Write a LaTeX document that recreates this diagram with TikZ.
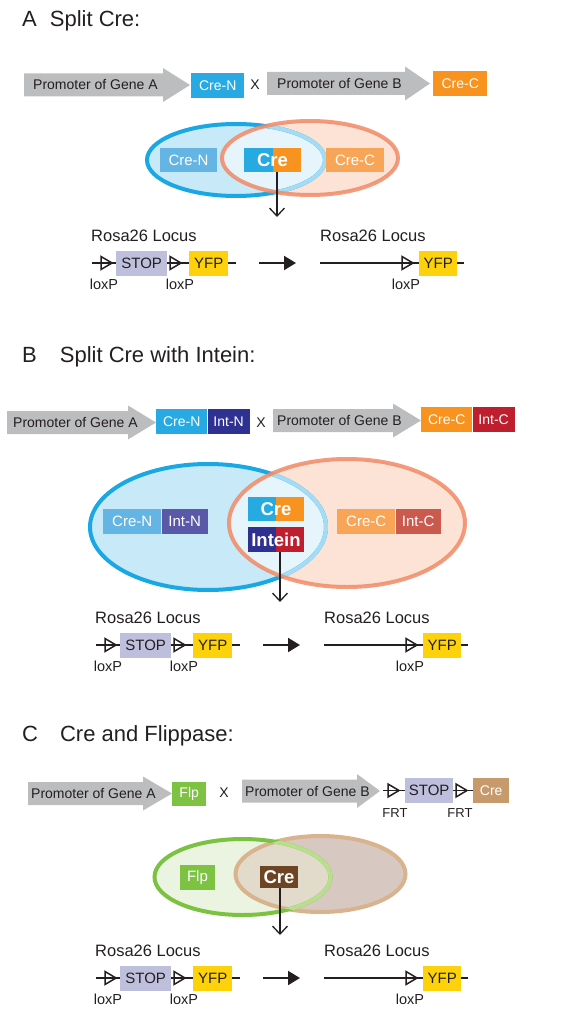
\documentclass[tikz,border=0pt]{standalone}
\usepackage{fontspec}
\setmainfont{Liberation Sans}
\usetikzlibrary{arrows.meta,positioning}

\definecolor{promgray}{HTML}{BCBDBF}
\definecolor{creblue}{HTML}{27AAE1}
\definecolor{creorange}{HTML}{F7931E}
\definecolor{intnavy}{HTML}{2E3192}
\definecolor{intred}{HTML}{BE1E2D}
\definecolor{paleblue}{HTML}{64B5E4}
\definecolor{paleorange}{HTML}{F9A557}
\definecolor{palenavy}{HTML}{5A59A7}
\definecolor{palered}{HTML}{CB5A4E}
\definecolor{stopgray}{HTML}{BEBEDD}
\definecolor{yfpyellow}{HTML}{FDD20A}
\definecolor{flpgreen}{HTML}{7DC242}
\definecolor{cretan}{HTML}{C79A6C}
\definecolor{crebrown}{HTML}{6E4524}
\definecolor{vennblue}{HTML}{C7E9F8}
\definecolor{vennorange}{HTML}{FDE3D6}
\definecolor{vennmixA}{HTML}{E6F5FC}
\definecolor{ringblue}{HTML}{1AA8E4}
\definecolor{ringlightblue}{HTML}{A3DCF4}
\definecolor{ringorange}{HTML}{F18A66}
\definecolor{venngreen}{HTML}{EAF4E0}
\definecolor{venntan}{HTML}{D7C8C2}
\definecolor{vennmixC}{HTML}{E2DACB}
\definecolor{ringgreen}{HTML}{7CC242}
\definecolor{ringlightgreen}{HTML}{B8DE8E}
\definecolor{ringtan}{HTML}{D8B38D}
\definecolor{inkblack}{HTML}{231F20}

\newcommand{\fsz}[1]{\fontsize{#1}{#1}\selectfont}

\tikzset{
  titletext/.style={inner sep=0pt, text=inkblack, font=\fsz{22}},
  promtext/.style={inner sep=0pt, text=inkblack, font=\fsz{14}},
  gene/.style={rectangle, inner sep=0pt, minimum height=25pt, text=white, font=\fsz{14}},
  splitbox/.style 2 args={rectangle, inner sep=0pt, minimum width=57pt, minimum height=24pt,
    text=white, font=\fsz{18.5}\bfseries,
    path picture={\fill[#1] (path picture bounding box.south west) rectangle (path picture bounding box.north);
                  \fill[#2] (path picture bounding box.south) rectangle (path picture bounding box.north east);}},
  stopbox/.style={rectangle, inner sep=0pt, minimum height=25pt, fill=stopgray, text=inkblack, font=\fsz{15}},
  yfpbox/.style={rectangle, inner sep=0pt, minimum height=25pt, fill=yfpyellow, text=inkblack, font=\fsz{15}},
  locustext/.style={inner sep=0pt, text=inkblack, font=\fsz{16.5}},
  sitetext/.style={inner sep=0pt, text=inkblack, font=\fsz{14.5}},
  dna/.style={line width=1.5pt, inkblack},
  site/.style={line width=1.5pt, inkblack, line join=miter},
  recomb/.style={line width=2pt, inkblack, -{Triangle[length=12pt,width=14pt]}},
  cut/.style={line width=1.3pt, inkblack, -{Straight Barb[length=8pt,width=15pt]}},
  ring/.style={line width=4pt}
}

% promoter arrow: name, left, head start, tip, y, text x, label
\newcommand{\promoter}[7]{%
  \fill[promgray] (#2,#5-11.5) -- (#3,#5-11.5) -- (#3,#5-17) -- (#4,#5)
    -- (#3,#5+17) -- (#3,#5+11.5) -- (#2,#5+11.5) -- cycle;
  \node[promtext, anchor=west] (#1) at (#6,#5) {#7};}

% recombination site
\newcommand{\loxsite}[2]{\draw[site] (#1,#2-6.5) -- (#1+11,#2) -- (#1,#2+6.5) -- cycle;}

% Rosa26 locus before and after, prefix and y of the DNA line
\newcommand{\locus}[2]{%
  \node[locustext, anchor=west] (#1rosaL) at (95,#2-27) {Rosa26 Locus};
  \coordinate (#1l0) at (96,#2);
  \coordinate (#1l1) at (240,#2);
  \draw[dna] (#1l0) -- (#1l1);
  \node[stopbox, minimum width=51pt, anchor=west] (#1stop) at (120,#2) {STOP};
  \node[yfpbox, minimum width=39pt, anchor=west] (#1yfpL) at (193,#2) {YFP};
  \loxsite{105}{#2}
  \loxsite{174}{#2}
  \node[sitetext] (#1loxa) at (108,#2+21) {loxP};
  \node[sitetext] (#1loxb) at (184,#2+21) {loxP};
  \coordinate (#1m0) at (263,#2);
  \coordinate (#1m1) at (300,#2);
  \draw[recomb] (#1m0) -- (#1m1);
  \node[locustext, anchor=west] (#1rosaR) at (324,#2-27) {Rosa26 Locus};
  \coordinate (#1r0) at (324,#2);
  \coordinate (#1r1) at (468,#2);
  \draw[dna] (#1r0) -- (#1r1);
  \node[yfpbox, minimum width=38pt, anchor=west] (#1yfpR) at (423,#2) {YFP};
  \loxsite{406}{#2}
  \node[sitetext] (#1loxc) at (410,#2+21) {loxP};}

\begin{document}
\begin{tikzpicture}[x=1pt,y=-1pt]
\useasboundingbox (0,0) rectangle (562,1014);

% A: split Cre
\node[titletext, anchor=base west] (titleA) at (22,27) {A\hspace{13pt}Split Cre:};
\promoter{promAa}{24}{163}{190}{85}{33}{Promoter of Gene A}
\node[gene, fill=creblue, minimum width=53pt, anchor=west] (creNa) at (191,85.5) {Cre-N};
\node[promtext] (crossA) at (255,85) {X};
\promoter{promAb}{267}{405}{430}{83.5}{277}{Promoter of Gene B}
\node[gene, fill=creorange, minimum width=54pt, anchor=west] (creCa) at (433,83.5) {Cre-C};

\fill[vennblue] (236,160) ellipse [x radius=89, y radius=36];
\fill[vennorange] (310,158) ellipse [x radius=88, y radius=37];
\begin{scope}
  \clip (236,160) ellipse [x radius=89, y radius=36];
  \fill[vennmixA] (310,158) ellipse [x radius=88, y radius=37];
\end{scope}
\draw[ring, ringblue] (236,160) ellipse [x radius=89, y radius=36];
\begin{scope}
  \clip (310,158) ellipse [x radius=88, y radius=37];
  \draw[ring, ringlightblue] (236,160) ellipse [x radius=89, y radius=36];
\end{scope}
\draw[ring, ringorange, draw opacity=0.85] (310,158) ellipse [x radius=88, y radius=37];

\node[gene, fill=paleblue, minimum width=57pt, minimum height=24pt, font=\fsz{15}] (creNva) at (188.5,160) {Cre-N};
\node[splitbox={creblue}{creorange}] (creA) at (272.5,160) {Cre};
\node[gene, fill=paleorange, minimum width=58pt, minimum height=24pt, font=\fsz{15}] (creCva) at (355,160) {Cre-C};
\coordinate (downA) at (277,217);
\draw[cut] (creA.south -| downA) -- (downA);

\begin{scope}[xshift=-4pt]
  \locus{A}{263}
\end{scope}

% B: split Cre with intein
\node[titletext, anchor=base west] (titleB) at (22,362) {B\hspace{23pt}Split Cre with Intein:};
\promoter{promBa}{7}{128}{156}{422.5}{13}{Promoter of Gene A}
\node[gene, fill=creblue, minimum width=51pt, anchor=west] (creNb) at (156,421.5) {Cre-N};
\node[gene, fill=intnavy, minimum width=42pt, right=0pt of creNb] (intNb) {Int-N};
\node[promtext] (crossB) at (261,423) {X};
\promoter{promBb}{273}{393}{421}{420.5}{277}{Promoter of Gene B}
\node[gene, fill=creorange, minimum width=51pt, anchor=west] (creCb) at (421,419.5) {Cre-C};
\node[gene, fill=intred, minimum width=42pt, right=0pt of creCb] (intCb) {Int-C};

\fill[vennblue] (208,527) ellipse [x radius=118, y radius=63];
\fill[vennorange] (347,523) ellipse [x radius=118, y radius=64];
\begin{scope}
  \clip (208,527) ellipse [x radius=118, y radius=63];
  \fill[vennmixA] (347,523) ellipse [x radius=118, y radius=64];
\end{scope}
\draw[ring, ringblue] (208,527) ellipse [x radius=118, y radius=63];
\begin{scope}
  \clip (347,523) ellipse [x radius=118, y radius=64];
  \draw[ring, ringlightblue] (208,527) ellipse [x radius=118, y radius=63];
\end{scope}
\draw[ring, ringorange, draw opacity=0.85] (347,523) ellipse [x radius=118, y radius=64];

\node[gene, fill=paleblue, minimum width=58pt, font=\fsz{15}, anchor=west] (creNvb) at (103,521) {Cre-N};
\node[gene, fill=palenavy, minimum width=46pt, font=\fsz{15}, right=0pt of creNvb] (intNvb) {Int-N};
\node[splitbox={creblue}{creorange}, minimum width=56pt] (creB) at (276,509) {Cre};
\node[splitbox={intnavy}{intred}, minimum width=56pt, minimum height=25pt] (inteinB) at (276,539.5) {Intein};
\node[gene, fill=paleorange, minimum width=58pt, font=\fsz{15}, anchor=west] (creCvb) at (337,521) {Cre-C};
\node[gene, fill=palered, minimum width=45pt, font=\fsz{15}, right=0pt of creCvb] (intCvb) {Int-C};
\coordinate (downB) at (280,602);
\draw[cut] (inteinB.south -| downB) -- (downB);

\locus{B}{645}

% C: Cre and Flippase
\node[titletext, anchor=base west] (titleC) at (22,741) {C\hspace{22pt}Cre and Flippase:};
\promoter{promCa}{28}{143}{172}{793.5}{31}{Promoter of Gene A}
\node[gene, fill=flpgreen, minimum width=34pt, minimum height=24pt, anchor=west] (flpC) at (172,794) {Flp};
\node[promtext] (crossC) at (224,793) {X};
\promoter{promCb}{242}{357}{380}{791}{245}{Promoter of Gene B}
\coordinate (frt0) at (383,790.5);
\node[stopbox, minimum width=48pt, anchor=west] (stopC) at (405,790.5) {STOP};
\node[gene, fill=cretan, minimum width=36pt, anchor=west] (creTanC) at (473,790.5) {Cre};
\draw[dna] (frt0) -- (stopC.west);
\draw[dna] (stopC.east) -- (creTanC.west);
\loxsite{388}{790.5}
\loxsite{456}{790.5}
\node[sitetext, font=\fsz{13}] (frtA) at (395,813) {FRT};
\node[sitetext, font=\fsz{13}] (frtB) at (460,813) {FRT};

\fill[venngreen] (242.5,877) ellipse [x radius=88, y radius=38];
\fill[venntan] (320.5,874) ellipse [x radius=85, y radius=38];
\begin{scope}
  \clip (242.5,877) ellipse [x radius=88, y radius=38];
  \fill[vennmixC] (320.5,874) ellipse [x radius=85, y radius=38];
\end{scope}
\draw[ring, ringtan] (320.5,874) ellipse [x radius=85, y radius=38];
\draw[ring, ringgreen] (242.5,877) ellipse [x radius=88, y radius=38];
\begin{scope}
  \clip (320.5,874) ellipse [x radius=85, y radius=38];
  \draw[ring, ringlightgreen] (242.5,877) ellipse [x radius=88, y radius=38];
\end{scope}

\node[gene, fill=flpgreen, minimum width=35pt, font=\fsz{15}] (flpvC) at (197.5,877.5) {Flp};
\node[gene, fill=crebrown, minimum width=38pt, minimum height=22pt, font=\fsz{18.5}\bfseries] (creC) at (279,877) {Cre};
\coordinate (downC) at (280,935);
\draw[cut] (creC.south -| downC) -- (downC);

\locus{C}{978}
\end{tikzpicture}
\end{document}
